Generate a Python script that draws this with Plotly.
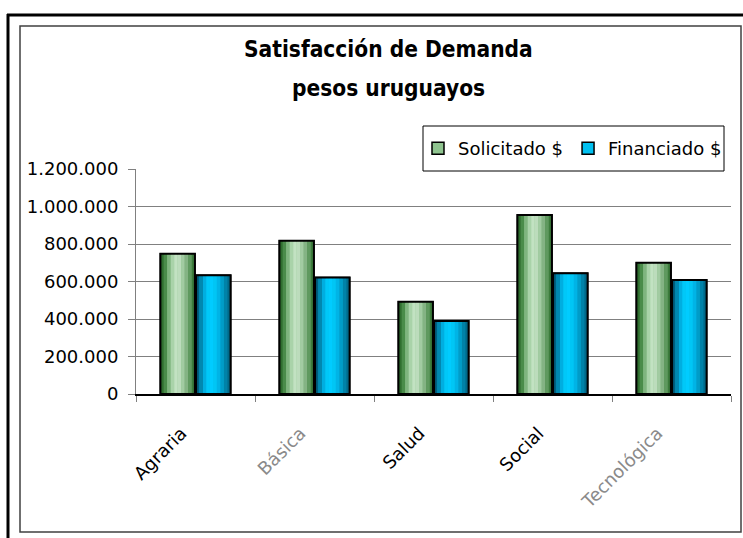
import plotly.graph_objects as go

categories = ["Agraria", "Básica", "Salud", "Social", "Tecnológica"]
solicitado = [748000, 818000, 492000, 955000, 700000]
financiado = [633000, 622000, 389000, 644000, 608000]
tick_vals = [0, 200000, 400000, 600000, 800000, 1000000, 1200000]
series_names = ["Solicitado $", "Financiado $"]

# pixel geometry of the plot area
L, R, T, B = 136, 731, 169, 394
W, H = 743, 538
def px_x(p):
    return (p - L) / (R - L)
def px_y(p):
    return (B - p) / (B - T)

tick_text = []
for c in categories:
    if c in ("Básica", "Tecnológica"):
        tick_text.append(f"<span style='color:#8a8a8a'>{c}</span>")
    else:
        tick_text.append(c)

green_stops = ["#2f6f2f", "#4a8c4a", "#7fb57f", "#a9d3a9", "#c2e2c2", "#bcdcbc", "#a2cba2", "#84b384", "#5f995f", "#3c7c3c"]
blue_stops = ["#005f7f", "#0088b0", "#00aee0", "#00c8f8", "#00ccff", "#00c6f5", "#00b4e6", "#009cc8", "#0082a8", "#006a8a"]

fig = go.Figure()
bw = 0.29
offsets = [-0.295, 0.005]
for s, (vals, name, stops, base) in enumerate([
        (solicitado, series_names[0], green_stops, "#8fc48f"),
        (financiado, series_names[1], blue_stops, "#00c0f0")]):
    fig.add_trace(go.Bar(x=categories, y=vals, name=name, offset=offsets[s], width=bw,
                         marker=dict(color=base, line=dict(color="black", width=1.5)),
                         showlegend=True))
    n = len(stops)
    sw = bw / n
    for i, col in enumerate(stops):
        fig.add_trace(go.Bar(x=categories, y=vals, offset=offsets[s] + i * sw, width=sw * 1.02,
                             marker=dict(color=col, line=dict(width=0)), showlegend=False,
                             hoverinfo="skip"))
    fig.add_trace(go.Bar(x=categories, y=vals, offset=offsets[s], width=bw,
                         marker=dict(color="rgba(0,0,0,0)", line=dict(color="black", width=2)),
                         showlegend=False, hoverinfo="skip"))

shapes = [
    dict(type="line", xref="paper", yref="paper", x0=px_x(7), x1=px_x(W + 5), y0=px_y(15), y1=px_y(15),
         line=dict(color="black", width=3), layer="above"),
    dict(type="line", xref="paper", yref="paper", x0=px_x(8), x1=px_x(8), y0=px_y(14), y1=px_y(H + 5),
         line=dict(color="black", width=3), layer="above"),
    dict(type="rect", xref="paper", yref="paper", x0=px_x(20), x1=px_x(741), y0=px_y(26), y1=px_y(532),
         line=dict(color="#404040", width=1.5), layer="above"),
    # legend box
    dict(type="rect", xref="paper", yref="paper", x0=px_x(423), x1=px_x(724), y0=px_y(126), y1=px_y(171),
         line=dict(color="black", width=1), fillcolor="white", layer="above"),
]

annotations = [
    dict(text="<b>Satisfacción de Demanda</b>", xref="paper", yref="paper", x=px_x(388), y=px_y(49),
         showarrow=False, xanchor="center", yanchor="middle",
         font=dict(family="DejaVu Sans Condensed", size=22.5, color="black")),
    dict(text="<b>pesos uruguayos</b>", xref="paper", yref="paper", x=px_x(388), y=px_y(88),
         showarrow=False, xanchor="center", yanchor="middle",
         font=dict(family="DejaVu Sans Condensed", size=22.5, color="black")),
]

fig.update_layout(
    width=W, height=H,
    margin=dict(l=L, r=W - R, t=T, b=H - B, pad=0, autoexpand=False),
    paper_bgcolor="white", plot_bgcolor="white",
    barmode="overlay",
    separators=",.",
    font=dict(family="DejaVu Sans", size=18, color="black"),
    showlegend=True,
    legend=dict(orientation="h", x=px_x(418), y=px_y(148.5), xanchor="left", yanchor="middle",
                bgcolor="rgba(0,0,0,0)", borderwidth=0,
                font=dict(family="DejaVu Sans", size=18), itemwidth=30,
                tracegroupgap=0),
    shapes=shapes,
    annotations=annotations,
)
fig.update_yaxes(range=[0, 1200000], tickvals=tick_vals, tickformat=",d",
                 showgrid=True, gridcolor="#808080", gridwidth=1,
                 showline=True, linecolor="#808080", linewidth=1,
                 ticks="outside", ticklen=7, tickcolor="#808080",
                 ticklabelstandoff=6, automargin=False,
                 zeroline=False, fixedrange=True)
fig.update_xaxes(tickvals=categories, ticktext=tick_text, tickangle=-45,
                 showline=True, linecolor="black", linewidth=1.5,
                 ticks="outside", ticklen=6, tickcolor="#808080", tickson="boundaries",
                 ticklabelstandoff=20, ticklabelshift=-14, automargin=False,
                 showgrid=False, range=[-0.5, 4.5], fixedrange=True)

fig.write_html("out.html", config={"displayModeBar": False},
               post_script="document.body.style.margin='0';document.body.style.overflow='hidden';")
